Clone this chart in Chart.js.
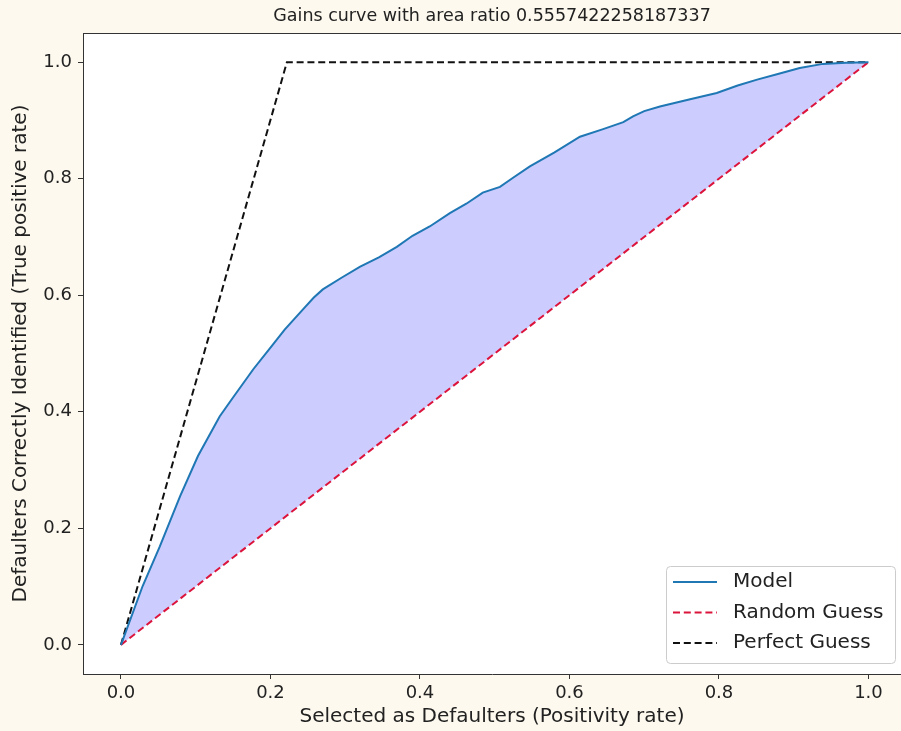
<!DOCTYPE html>
<html>
<head>
<meta charset="utf-8">
<script src="https://cdn.jsdelivr.net/npm/chart.js@4/dist/chart.umd.min.js"></script>
<style>
  html, body { margin: 0; padding: 0; background: #fdf9ee; overflow: hidden; }
  canvas { display: block; }
</style>
</head>
<body>
<canvas id="gains" width="901" height="731"></canvas>
<script>
// model gains curve
const modelX = [0, 0.029, 0.052, 0.079, 0.103, 0.132, 0.148, 0.177, 0.200, 0.219, 0.245, 0.258, 0.270,
  0.295, 0.320, 0.345, 0.369, 0.390, 0.413, 0.440, 0.462, 0.484, 0.507, 0.525, 0.547, 0.580,
  0.614, 0.645, 0.672, 0.685, 0.700, 0.721, 0.760, 0.797, 0.825, 0.851, 0.880, 0.908, 0.939, 0.970, 1];
const modelY = [0, 0.101, 0.169, 0.255, 0.324, 0.392, 0.421, 0.473, 0.510, 0.541, 0.578, 0.596, 0.610,
  0.630, 0.649, 0.665, 0.683, 0.702, 0.718, 0.741, 0.757, 0.776, 0.786, 0.802, 0.821, 0.845,
  0.872, 0.885, 0.897, 0.907, 0.916, 0.924, 0.936, 0.947, 0.960, 0.970, 0.980, 0.990, 0.997, 0.999, 1];
const randomX = [0, 1];
const randomY = [0, 1];
const perfectX = [0, 0.222, 1];
const perfectY = [0, 1, 1];
const xTicks = [0, 0.2, 0.4, 0.6, 0.8, 1.0];
const yTicks = [0, 0.2, 0.4, 0.6, 0.8, 1.0];
const areaRatio = "0.5557422258187337";

const toPoints = (xs, ys) => xs.map((x, i) => ({ x: x, y: ys[i] }));
const font = "'DejaVu Sans', sans-serif";

const frame = {
  id: "frame",
  beforeDraw(chart) {
    const { ctx, chartArea: a } = chart;
    ctx.save();
    ctx.fillStyle = "#fdf9ee";
    ctx.fillRect(0, 0, chart.width, chart.height);
    ctx.fillStyle = "#ffffff";
    ctx.fillRect(a.left, a.top, a.right - a.left, a.bottom - a.top);
    ctx.restore();
  },
  afterDraw(chart) {
    const { ctx, chartArea: a } = chart;
    ctx.save();
    ctx.strokeStyle = "#333";
    ctx.lineWidth = 1;
    ctx.beginPath();
    ctx.moveTo(a.left, a.top + 0.5);
    ctx.lineTo(a.right, a.top + 0.5);
    ctx.stroke();

    // legend box in the lower right
    const bx = 666.5, by = 566.5, bw = 229, bh = 97;
    ctx.fillStyle = "rgba(255,255,255,0.8)";
    ctx.strokeStyle = "#cccccc";
    ctx.beginPath();
    ctx.roundRect(bx, by, bw, bh, 4);
    ctx.fill();
    ctx.stroke();
    ctx.font = "20px " + font;
    ctx.textBaseline = "middle";
    chart.data.datasets.forEach((ds, i) => {
      const y = 582 + i * 30.5;
      ctx.strokeStyle = ds.borderColor;
      ctx.lineWidth = ds.borderWidth;
      ctx.setLineDash(ds.borderDash || []);
      ctx.beginPath();
      ctx.moveTo(673, y);
      ctx.lineTo(717, y);
      ctx.stroke();
      ctx.setLineDash([]);
      ctx.fillStyle = "#222";
      ctx.fillText(ds.label, 733, y);
    });
    ctx.restore();
  }
};

new Chart("gains", {
  type: "line",
  data: {
    datasets: [
      {
        label: "Model",
        data: toPoints(modelX, modelY),
        borderColor: "#1f77b4",
        borderWidth: 2,
        backgroundColor: "rgba(0,0,255,0.2)",
        fill: "+1",
        pointRadius: 0,
      },
      {
        label: "Random Guess",
        data: toPoints(randomX, randomY),
        borderColor: "#dc143c",
        borderWidth: 2,
        borderDash: [7, 3.8],
        fill: false,
        pointRadius: 0,
      },
      {
        label: "Perfect Guess",
        data: toPoints(perfectX, perfectY),
        borderColor: "#111111",
        borderWidth: 2,
        borderDash: [7, 3.8],
        fill: false,
        pointRadius: 0,
      },
    ],
  },
  options: {
    responsive: false,
    animation: false,
    layout: { padding: 0 },
    plugins: {
      legend: { display: false },
      tooltip: { enabled: false },
      filler: { drawTime: "beforeDatasetsDraw" },
      title: {
        display: true,
        fullSize: false,
        text: "Gains curve with area ratio " + areaRatio,
        color: "#222",
        font: { family: font, size: 17.5, weight: "normal" },
        padding: { top: 6, bottom: 6 },
      },
    },
    scales: {
      x: {
        type: "linear",
        min: -0.0508,
        max: 1.0435,
        afterFit: (s) => { s.height = 57; },
        afterBuildTicks: (s) => { s.ticks = xTicks.map((v) => ({ value: v })); },
        border: { display: true, color: "#333", width: 1 },
        grid: { drawOnChartArea: false, drawTicks: true, tickLength: 5, color: "#333" },
        ticks: {
          color: "#222",
          padding: 4,
          maxRotation: 0,
          font: { family: font, size: 18 },
          callback: (v) => v.toFixed(1),
        },
        title: {
          display: true,
          text: "Selected as Defaulters (Positivity rate)",
          color: "#222",
          font: { family: font, size: 20 },
          padding: { top: 0, bottom: 2 },
        },
      },
      y: {
        type: "linear",
        min: -0.05,
        max: 1.05,
        afterFit: (s) => { s.width = 83; },
        afterBuildTicks: (s) => { s.ticks = yTicks.map((v) => ({ value: v })); },
        border: { display: true, color: "#333", width: 1 },
        grid: { drawOnChartArea: false, drawTicks: true, tickLength: 5, color: "#333" },
        ticks: {
          color: "#222",
          padding: 6,
          font: { family: font, size: 18 },
          callback: (v) => v.toFixed(1),
        },
        title: {
          display: true,
          text: "Defaulters Correctly Identified (True positive rate)",
          color: "#222",
          font: { family: font, size: 20 },
          padding: { top: 9, bottom: 0 },
        },
      },
    },
  },
  plugins: [frame],
});
</script>
</body>
</html>
